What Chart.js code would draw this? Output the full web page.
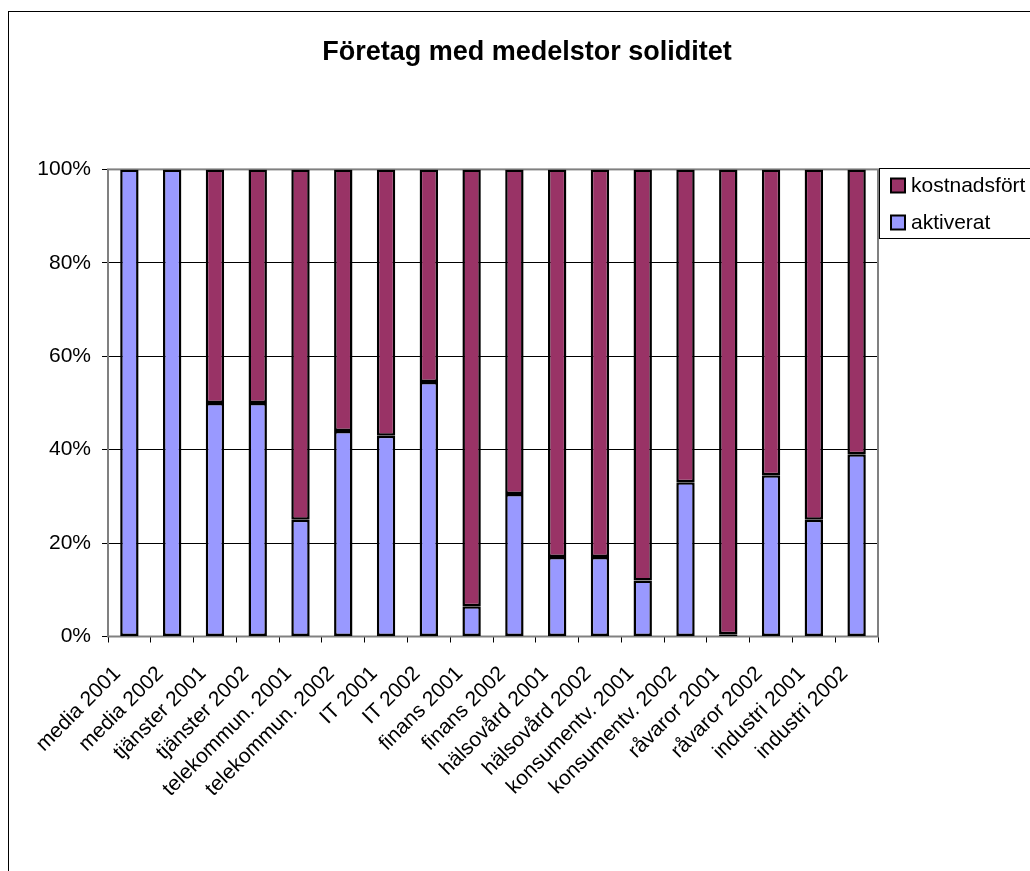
<!DOCTYPE html>
<html>
<head>
<meta charset="utf-8">
<title>Företag med medelstor soliditet</title>
<script src="https://cdn.jsdelivr.net/npm/chart.js@4.4.0/dist/chart.umd.min.js"></script>
<style>
    html, body { margin: 0; padding: 0; background: #fff; overflow: hidden; }
    #wrap { position: absolute; left: 0; top: 0; width: 1054px; height: 871px; }
</style>
</head>
<body>
<div id="wrap"><canvas id="chart" width="1054" height="871"></canvas></div>
<script>
// Chart data
const categories = [
    'media 2001', 'media 2002', 'tjänster 2001', 'tjänster 2002',
    'telekommun. 2001', 'telekommun. 2002', 'IT 2001', 'IT 2002',
    'finans 2001', 'finans 2002', 'hälsovård 2001', 'hälsovård 2002',
    'konsumentv. 2001', 'konsumentv. 2002', 'råvaror 2001', 'råvaror 2002',
    'industri 2001', 'industri 2002'
];
const aktiverat = [100, 100, 50, 50, 25, 44, 43, 54.5, 6.5, 30.5, 17, 17, 12, 33, 0.5, 34.5, 25, 39];
const kostnadsfort = [0, 0, 50, 50, 75, 56, 57, 45.5, 93.5, 69.5, 83, 83, 88, 67, 99.5, 65.5, 75, 61];
const yTicks = [0, 20, 40, 60, 80, 100];

const FONT = "'Liberation Sans', Arial, sans-serif";

// the chart object is wider than the window, like the original sheet
const excelFrame = {
    id: 'excelFrame',
    beforeDraw(chart) {
        const c = chart.ctx;
        c.save();
        c.strokeStyle = '#000';
        c.lineWidth = 1;
        c.strokeRect(8.5, 11.5, 1200, 1000);
        c.restore();
    },
    beforeDatasetsDraw(chart) {
        const a = chart.chartArea;
        const c = chart.ctx;
        c.save();
        c.strokeStyle = '#808080';
        c.lineWidth = 2;
        c.strokeRect(a.left, a.top, a.right - a.left, a.bottom - a.top);
        c.restore();
    },
    afterDraw(chart) {
        const c = chart.ctx;
        const items = chart.data.datasets.slice().reverse();
        c.save();
        c.strokeStyle = '#000';
        c.lineWidth = 1;
        c.strokeRect(879.5, 168.5, 200, 70);
        c.font = '21px ' + FONT;
        c.textBaseline = 'middle';
        c.textAlign = 'left';
        items.forEach((ds, i) => {
            const y = 178.5 + i * 37;
            c.fillStyle = ds.backgroundColor;
            c.fillRect(891, y, 14, 14);
            c.lineWidth = 2;
            c.strokeRect(891, y, 14, 14);
            c.fillStyle = '#000';
            c.fillText(ds.label, 911, y + 7.5);
        });
        c.restore();
    }
};

const ctx = document.getElementById('chart').getContext('2d');

new Chart(ctx, {
    type: 'bar',
    data: {
        labels: categories,
        datasets: [
            {
                label: 'aktiverat',
                data: aktiverat,
                backgroundColor: '#9999FF',
                borderColor: '#000',
                borderWidth: 2.5,
                borderSkipped: false,
                barPercentage: 0.43,
                categoryPercentage: 1
            },
            {
                label: 'kostnadsfört',
                data: kostnadsfort,
                backgroundColor: '#993366',
                borderColor: '#000',
                borderWidth: 2.5,
                borderSkipped: false,
                barPercentage: 0.43,
                categoryPercentage: 1
            }
        ]
    },
    options: {
        responsive: false,
        animation: false,
        devicePixelRatio: 1,
        layout: {
            padding: 0
        },
        plugins: {
            legend: { display: false },
            tooltip: { enabled: false },
            title: {
                display: true,
                text: 'Företag med medelstor soliditet',
                color: '#000',
                font: { family: FONT, size: 27, weight: 'bold' },
                padding: { top: 36, bottom: 101 }
            }
        },
        scales: {
            x: {
                stacked: true,
                grid: {
                    drawOnChartArea: false,
                    drawTicks: true,
                    tickLength: 6,
                    color: '#000'
                },
                border: { display: false },
                ticks: {
                    autoSkip: false,
                    minRotation: 45,
                    maxRotation: 45,
                    padding: 19,
                    labelOffset: -12,
                    color: '#000',
                    font: { family: FONT, size: 21 }
                },
                afterFit(scale) { scale.height = 234.5; }
            },
            y: {
                stacked: true,
                min: 0,
                max: 100,
                afterBuildTicks(scale) {
                    scale.ticks = yTicks.map(v => ({ value: v }));
                },
                grid: {
                    color: '#000',
                    tickLength: 6
                },
                border: { display: false },
                ticks: {
                    padding: 11,
                    color: '#000',
                    font: { family: FONT, size: 21 },
                    callback: v => v + '%'
                },
                afterFit(scale) { scale.width = 108; }
            },
            // empty strip on the right where the legend sits
            side: {
                position: 'right',
                grid: { display: false },
                border: { display: false },
                ticks: { display: false },
                afterFit(scale) { scale.width = 176; }
            }
        }
    },
    plugins: [excelFrame]
});
</script>
</body>
</html>
